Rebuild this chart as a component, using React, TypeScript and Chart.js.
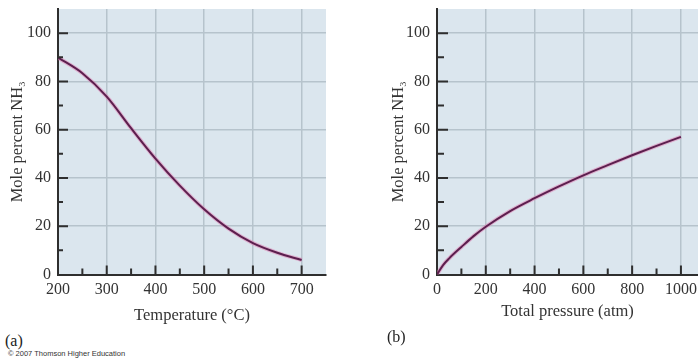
import React, { useEffect, useRef } from 'react';
import { Chart, registerables } from 'chart.js';

Chart.register(...registerables);

// ---- data ----
const temperatureC = [200, 250, 300, 350, 400, 450, 500, 550, 600, 650, 700];
const molePctVsTemperature = [89.9, 83.4, 73.7, 60.6, 48.0, 36.8, 27.0, 19.0, 13.0, 9.0, 6.0];

const pressureAtm = [0, 25, 50, 100, 150, 200, 300, 400, 500, 600, 700, 800, 900, 1000];
const molePctVsPressure = [0, 3.9, 6.7, 11.4, 15.9, 19.8, 26.3, 31.6, 36.5, 41.1, 45.3, 49.4, 53.3, 57.0];

const yTickValues = [0, 20, 40, 60, 80, 100];
const tempTickValues = [200, 300, 400, 500, 600, 700];
const pressureTickValues = [0, 200, 400, 600, 800, 1000];

const yTitle = 'Mole percent NH\u2083';
const tempTitle = 'Temperature (°C)';
const pressureTitle = 'Total pressure (atm)';

const SERIF = "'Liberation Serif', 'DejaVu Serif', serif";
const PLOT_BG = '#dbe6ee';
const GRID = '#b6c3cc';
const AXIS = '#2e2e2e';
const TEXT = '#333333';
const LINE = '#5c1f4e';
const HALO = 'rgba(222,130,180,0.55)';
const TICK_SIZE = 16;
const TITLE_SIZE = 16.5;

type PanelCfg = {
  xs: number[];
  ys: number[];
  xMin: number;
  xMax: number;
  xStep: number;
  xTicks: number[];
  xTitle: string;
  yAxisWidth: number;
  yTitlePad: number;
  xTitlePad: number;
  yTickPad: number;
  padRight: number;
  yMajorLen: number;
  yMinorLen: number;
  xMajorLen: number;
  xMinorLen: number;
};

function makeChart(canvas: HTMLCanvasElement, cfg: PanelCfg) {
  const pts = cfg.xs.map((x, i) => ({ x, y: cfg.ys[i] }));

  const bgPlugin = {
    id: 'plotBg',
    beforeDraw(chart: any) {
      const { ctx, chartArea } = chart;
      ctx.save();
      ctx.fillStyle = PLOT_BG;
      ctx.fillRect(chartArea.left, chartArea.top, chartArea.right - chartArea.left, chartArea.bottom - chartArea.top);
      ctx.restore();
    },
  };

  const tickPlugin = {
    id: 'inwardTicks',
    afterDraw(chart: any) {
      const { ctx, scales } = chart;
      const xs = scales.x;
      const ys = scales.y;
      const x0 = xs.getPixelForValue(cfg.xMin);
      const y0 = ys.getPixelForValue(0);
      ctx.save();
      ctx.strokeStyle = AXIS;
      ctx.lineWidth = 2;
      ctx.beginPath();
      for (let v = 10; v <= 100; v += 10) {
        const y = ys.getPixelForValue(v);
        const len = v % 20 === 0 ? cfg.yMajorLen : cfg.yMinorLen;
        ctx.moveTo(x0, y);
        ctx.lineTo(x0 + len, y);
      }
      const half = cfg.xStep / 2;
      for (let v = cfg.xMin + half; v <= cfg.xTicks[cfg.xTicks.length - 1]; v += half) {
        const x = xs.getPixelForValue(v);
        const major = Math.round((v - cfg.xMin) / half) % 2 === 0;
        const len = major ? cfg.xMajorLen : cfg.xMinorLen;
        ctx.moveTo(x, y0);
        ctx.lineTo(x, y0 - len);
      }
      ctx.stroke();
      ctx.restore();
    },
  };

  return new Chart(canvas, {
    type: 'line',
    data: {
      datasets: [
        {
          data: pts,
          borderColor: LINE,
          borderWidth: 2,
          pointRadius: 0,
          cubicInterpolationMode: 'monotone',
          fill: false,
        },
        {
          data: pts,
          borderColor: HALO,
          borderWidth: 4,
          pointRadius: 0,
          cubicInterpolationMode: 'monotone',
          fill: false,
        },
      ],
    },
    options: {
      responsive: false,
      animation: false,
      events: [],
      layout: { padding: { top: 9, right: cfg.padRight, left: 0, bottom: 0 } },
      plugins: { legend: { display: false }, tooltip: { enabled: false }, title: { display: false } },
      scales: {
        x: {
          type: 'linear',
          min: cfg.xMin,
          max: cfg.xMax,
          afterBuildTicks: (s: any) => {
            s.ticks = cfg.xTicks.map((v) => ({ value: v }));
          },
          afterFit: (s: any) => {
            s.height = 330 - 274.5;
            s.paddingLeft = 0;
            s.paddingRight = 0;
          },
          grid: { color: GRID, lineWidth: 1.5, drawTicks: false },
          border: { display: true, color: AXIS, width: 2 },
          ticks: {
            padding: 6,
            color: TEXT,
            font: { family: SERIF, size: TICK_SIZE },
            maxRotation: 0,
            autoSkip: false,
            callback: (v: any) => String(v),
          },
          title: {
            display: true,
            text: cfg.xTitle,
            color: TEXT,
            font: { family: SERIF, size: TITLE_SIZE },
            padding: { top: 0, bottom: cfg.xTitlePad },
          },
        },
        y: {
          type: 'linear',
          min: 0,
          max: 110,
          afterBuildTicks: (s: any) => {
            s.ticks = yTickValues.map((v) => ({ value: v }));
          },
          afterFit: (s: any) => {
            s.width = cfg.yAxisWidth;
            s.paddingTop = 0;
            s.paddingBottom = 0;
          },
          grid: { color: GRID, lineWidth: 1.5, drawTicks: false },
          border: { display: true, color: AXIS, width: 2 },
          ticks: {
            padding: cfg.yTickPad,
            color: TEXT,
            font: { family: SERIF, size: TICK_SIZE },
            callback: (v: any) => String(v),
          },
          title: {
            display: true,
            text: yTitle,
            color: TEXT,
            font: { family: SERIF, size: TITLE_SIZE },
            padding: { top: cfg.yTitlePad, bottom: 0 },
          },
        },
      },
    },
    plugins: [bgPlugin, tickPlugin],
  } as any);
}

function Panel({ cfg, left }: { cfg: PanelCfg; left: number }) {
  const ref = useRef<HTMLCanvasElement | null>(null);
  useEffect(() => {
    if (!ref.current) return;
    const chart = makeChart(ref.current, cfg);
    return () => chart.destroy();
  }, []);
  return (
    <canvas
      ref={ref}
      width={340}
      height={330}
      style={{ position: 'absolute', left, top: 0, width: 340, height: 330 }}
    />
  );
}

const panelA: PanelCfg = {
  xs: temperatureC,
  ys: molePctVsTemperature,
  xMin: 200,
  xMax: 750,
  xStep: 100,
  xTicks: tempTickValues,
  xTitle: tempTitle,
  yAxisWidth: 58,
  yTitlePad: 8,
  xTitlePad: 4,
  yTickPad: 7,
  padRight: 14,
  yMajorLen: 10,
  yMinorLen: 5,
  xMajorLen: 9,
  xMinorLen: 6,
};

const panelB: PanelCfg = {
  xs: pressureAtm,
  ys: molePctVsPressure,
  xMin: 0,
  xMax: 1070,
  xStep: 200,
  xTicks: pressureTickValues,
  xTitle: pressureTitle,
  yAxisWidth: 79,
  yTitlePad: 31,
  xTitlePad: 8,
  yTickPad: 7,
  padRight: 0,
  yMajorLen: 11,
  yMinorLen: 7,
  xMajorLen: 9,
  xMinorLen: 6,
};

export default function App() {
  return (
    <div
      style={{
        position: 'fixed',
        left: 0,
        top: 0,
        width: 698,
        height: 361,
        background: '#ffffff',
        overflow: 'hidden',
      }}
    >
      <Panel cfg={panelA} left={0} />
      <Panel cfg={panelB} left={358} />
      <div
        style={{
          position: 'absolute',
          left: 5,
          top: 332,
          fontFamily: SERIF,
          fontSize: 16,
          lineHeight: '18px',
          color: '#222',
        }}
      >
        (a)
      </div>
      <div
        style={{
          position: 'absolute',
          left: 387,
          top: 328,
          fontFamily: SERIF,
          fontSize: 16,
          lineHeight: '18px',
          color: '#222',
        }}
      >
        (b)
      </div>
      <div
        style={{
          position: 'absolute',
          left: 8,
          top: 349,
          fontFamily: "'Liberation Sans', Arial, sans-serif",
          fontSize: 7.5,
          lineHeight: '9px',
          color: '#333',
          whiteSpace: 'nowrap',
        }}
      >
        © 2007 Thomson Higher Education
      </div>
    </div>
  );
}
